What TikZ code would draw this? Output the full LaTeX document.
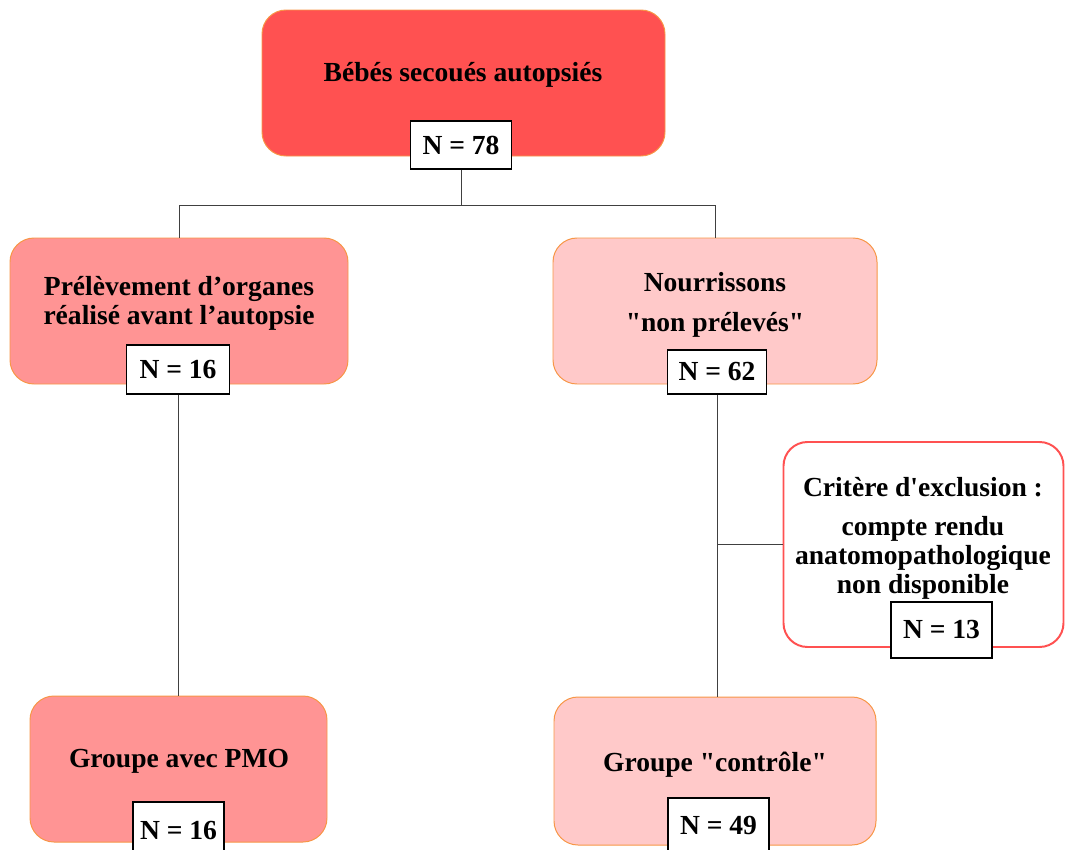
\documentclass[tikz,border=0pt]{standalone}
\usepackage{fontspec}
\setmainfont{Liberation Serif}[Ligatures=TeXOff]
\newlength\pxu
\setlength\pxu{0.025cm}
\definecolor{rotdunkel}{HTML}{FF5151}
\definecolor{rotmittel}{HTML}{FF9494}
\definecolor{rothell}{HTML}{FFC9C9}
\definecolor{rahmenorange}{HTML}{F79646}
\definecolor{liniengrau}{HTML}{404040}
\tikzset{
  kasten/.style={draw=rahmenorange, line width=0.7pt, rounded corners=24\pxu, inner sep=0pt},
  zahl/.style={draw=black, line width=1.4pt, fill=white, inner sep=0pt, font=\fontsize{19.6}{20.6}\selectfont\bfseries},
  schrift/.style={font=\fontsize{19.6}{20.6}\selectfont\bfseries, align=center, inner sep=0pt},
  verbindung/.style={draw=liniengrau, line width=0.7pt}
}
\begin{document}
\begin{tikzpicture}[x=0.025cm, y=-0.025cm]
            \useasboundingbox (0,0) rectangle (1066,849);

            % Kaesten
            \node[kasten, fill=rotdunkel, minimum width=403\pxu, minimum height=146\pxu] (bebes) at (463.5,83) {};
            \node[kasten, fill=rotmittel, minimum width=338\pxu, minimum height=146\pxu] (prelev) at (179,311) {};
            \node[kasten, fill=rothell, minimum width=324\pxu, minimum height=146\pxu] (nourr) at (715,311) {};
            \node[kasten, draw=rotdunkel, line width=1.4pt, fill=white, minimum width=280\pxu, minimum height=205\pxu] (exclu) at (923.5,544.5) {};
            \node[kasten, fill=rotmittel, minimum width=297\pxu, minimum height=146\pxu] (pmo) at (178.5,769) {};
            \node[kasten, fill=rothell, minimum width=322\pxu, minimum height=148\pxu] (controle) at (715,771) {};

            % Beschriftung der Kaesten
            \node[schrift] (bebes-txt) at (463,75) {Bébés secoués autopsiés};
            \node[schrift] (prelev-txt) at (179,303) {Prélèvement d’organes\\réalisé avant l’autopsie};
            \node[schrift] (nourr-txt) at (715,305) {Nourrissons\\[7.8pt]"non prélevés"};
            \node[schrift] (exclu-txt) at (923,538) {Critère d'exclusion :\\[7pt]compte rendu\\anatomopathologique\\non disponible};
            \node[schrift] (pmo-txt) at (179,761) {Groupe avec PMO};
            \node[schrift] (controle-txt) at (715,765) {Groupe "contrôle"};

            % Anzahlen
            \node[zahl, minimum width=101\pxu, minimum height=48\pxu] (n78) at (461,145) {N = 78};
            \node[zahl, minimum width=103\pxu, minimum height=49\pxu] (n16a) at (178,369.5) {N = 16};
            \node[zahl, minimum width=99\pxu, minimum height=44\pxu] (n62) at (717,372) {N = 62};
            \node[zahl, minimum width=101\pxu, minimum height=56\pxu] (n13) at (941.5,630) {N = 13};
            \node[zahl, minimum width=91\pxu, minimum height=56\pxu] (n16b) at (178.5,830) {N = 16};
            \node[zahl, minimum width=101\pxu, minimum height=56\pxu] (n49) at (718.5,826) {N = 49};

            % Verbindungen
            \draw[verbindung] (n78.south) -- ++(0,36) coordinate (verzweig);
            \draw[verbindung] (verzweig) -| (prelev.north);
            \draw[verbindung] (verzweig) -| (nourr.north);
            \draw[verbindung] (n16a.south) -- (n16a.south |- pmo.north);
            \draw[verbindung] (n62.south) -- (n62.south |- controle.north);
            \draw[verbindung] (exclu.west) -- (exclu.west -| n62.south);
\end{tikzpicture}
\end{document}
